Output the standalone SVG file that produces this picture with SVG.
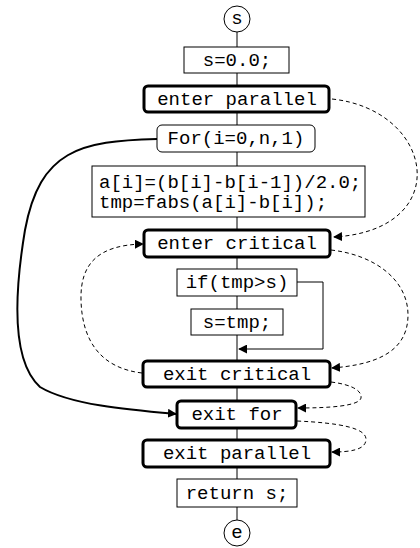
<svg xmlns="http://www.w3.org/2000/svg" width="420" height="548" viewBox="0 0 420 548">
<defs>
<marker id="ah" viewBox="0 0 10 10" refX="9" refY="5" markerWidth="9" markerHeight="9" markerUnits="userSpaceOnUse" orient="auto"><path d="M0,0 L10,5 L0,10 z" fill="#000"/></marker>
</defs>
<style>
text{font-family:"Liberation Mono","Courier New",monospace;font-size:19px;fill:#000;text-anchor:middle}
.b{fill:#fff;stroke:#000;stroke-width:1}
.k{fill:#fff;stroke:#000;stroke-width:3}
.d{fill:none;stroke:#000;stroke-width:1;stroke-dasharray:4,3}
.s{fill:none;stroke:#000;stroke-width:1}
</style>
<rect width="420" height="548" fill="#fff"/>
<g id="connectors">
<line class="s" x1="237" y1="32" x2="237" y2="520"/>
<path class="s" d="M297,282 H323 V349 H239" marker-end="url(#ah)"/>
<path class="d" d="M332,99 C435,110 455,230 334,237" marker-end="url(#ah)"/>
<path class="d" d="M142,373 C100,368 82,340 81,300 C80,262 100,245 143,244" marker-end="url(#ah)"/>
<path class="d" d="M331,250 C375,255 408,280 408,315 C408,355 370,365 332,368" marker-end="url(#ah)"/>
<path class="d" d="M331,382 C355,385 362,392 361,398 C359,406 330,408 298,408" marker-end="url(#ah)"/>
<path class="d" d="M297,421 C340,423 367,428 366,440 C365,450 350,452 332,452" marker-end="url(#ah)"/>
<path fill="none" stroke="#000" stroke-width="2" d="M157,139 C80,141 40,150 25,230 C15,290 10,360 40,387 C70,405 130,410 176,414" marker-end="url(#ah)"/>
</g>
<g id="start"><circle class="b" cx="237" cy="19" r="13"/><text x="237" y="24">s</text></g>
<g id="init"><rect class="b" x="184" y="47" width="105" height="26"/><text x="237" y="66">s=0.0;</text></g>
<g id="enter-parallel"><rect class="k" x="144" y="86" width="185" height="26" rx="4"/><text x="237" y="105">enter parallel</text></g>
<g id="for"><rect class="b" x="157" y="125" width="158" height="27" rx="5"/><text x="236" y="144">For(i=0,n,1)</text></g>
<g id="body"><rect class="b" x="92" y="166" width="273" height="51"/><text x="99" y="188" style="text-anchor:start">a[i]=(b[i]-b[i-1])/2.0;</text><text x="99" y="208" style="text-anchor:start">tmp=fabs(a[i]-b[i]);</text></g>
<g id="enter-critical"><rect class="k" x="144" y="230" width="186" height="27" rx="4"/><text x="237" y="249">enter critical</text></g>
<g id="if"><rect class="b" x="177" y="269" width="120" height="27"/><text x="237" y="288">if(tmp&gt;s)</text></g>
<g id="assign"><rect class="b" x="191" y="309" width="92" height="26"/><text x="237" y="328">s=tmp;</text></g>
<g id="exit-critical"><rect class="k" x="143" y="361" width="187" height="26" rx="4"/><text x="237" y="380">exit critical</text></g>
<g id="exit-for"><rect class="k" x="177" y="401" width="119" height="27" rx="4"/><text x="237" y="420">exit for</text></g>
<g id="exit-parallel"><rect class="k" x="143" y="440" width="187" height="27" rx="4"/><text x="237" y="459">exit parallel</text></g>
<g id="return"><rect class="b" x="177" y="479" width="120" height="28"/><text x="237" y="499">return s;</text></g>
<g id="end"><circle class="b" cx="237" cy="533" r="13"/><text x="237" y="538">e</text></g>
</svg>
